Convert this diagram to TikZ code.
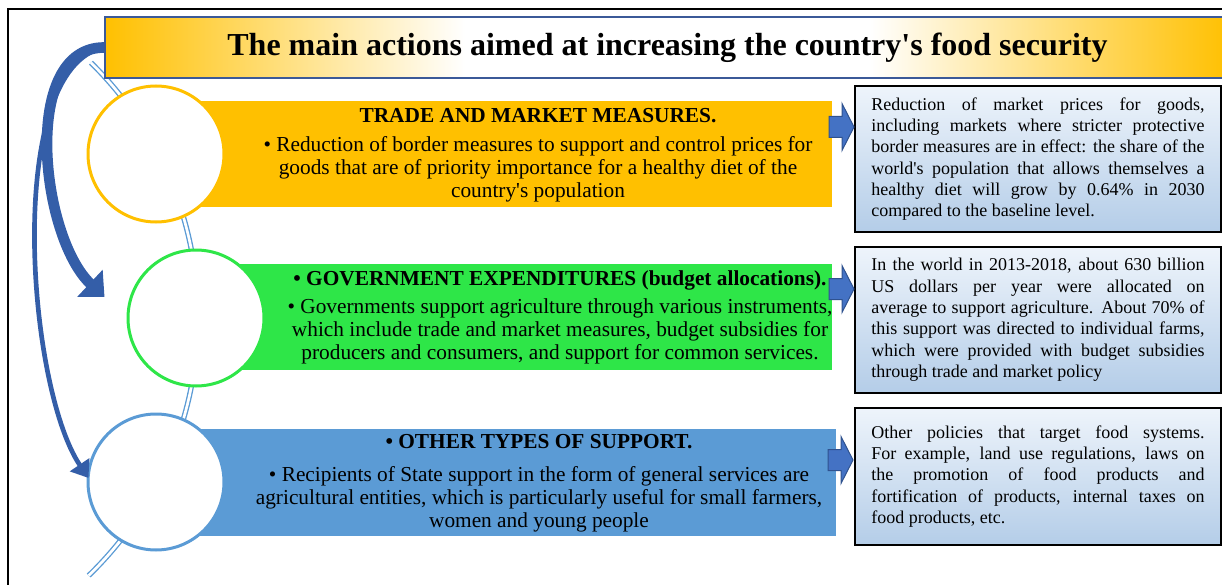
\documentclass[tikz,border=0pt]{standalone}
\usepackage{fontspec}
\setmainfont{Liberation Serif}
\usetikzlibrary{arrows.meta,calc}

\definecolor{titleorange}{RGB}{255,192,0}
\definecolor{titleframe}{RGB}{59,89,152}
\definecolor{bandorange}{RGB}{255,192,0}
\definecolor{bandgreen}{RGB}{46,230,72}
\definecolor{bandblue}{RGB}{91,155,213}
\definecolor{spineblue}{RGB}{91,155,213}
\definecolor{sweepblue}{RGB}{52,94,168}
\definecolor{blockblue}{RGB}{68,114,196}
\definecolor{blockframe}{RGB}{47,82,143}
\definecolor{boxtop}{RGB}{238,244,251}
\definecolor{boxbot}{RGB}{180,205,232}

\pgfdeclarehorizontalshading{titleshade}{100bp}{color(0bp)=(titleorange); color(25bp)=(titleorange); color(41bp)=(white); color(59bp)=(white); color(75bp)=(titleorange); color(100bp)=(titleorange)}

\newcommand{\jline}[1]{\makebox[250pt][s]{#1}\\}

\tikzset{
	headline/.style={draw=titleframe, line width=1.5pt, shading=titleshade, minimum width=843.75pt, minimum height=45.75pt, inner sep=0pt, font=\fontsize{24}{28}\selectfont\bfseries},
	band/.style={draw=none, minimum height=79.5pt, inner sep=0pt},
	bubble/.style={circle, fill=white, line width=2.25pt, minimum size=102pt, inner sep=0pt},
	bandtext/.style={align=center, inner sep=0pt, font=\fontsize{16}{17}\selectfont},
	result/.style={draw=black, line width=1.5pt, top color=boxtop, bottom color=boxbot, minimum width=274.5pt, text width=250pt, align=justify, inner xsep=12.25pt, inner ysep=0pt, font=\fontsize{13.5}{16}\selectfont},
	pointer/.style={fill=blockblue, draw=blockframe, line width=0.75pt, line join=miter},
	spine/.style={draw=spineblue, line width=1pt, double=white, double distance=2pt},
	sweep/.style={draw=sweepblue}
}

\begin{document}
\begin{tikzpicture}[x=0.75pt,y=0.75pt,yscale=-1,xscale=1]
	\path[use as bounding box] (0,0) rectangle (1222,585);
	\clip (0,0) rectangle (1222,585);
	
	%Shape: Frame
	\draw[line width=1.5pt] (8,9) rectangle (1240,600);
	%Shape: Arc
	\draw[spine] (-160,318) ++(-45.5:358) arc[start angle=-45.5, end angle=46, radius=358];
	
	%Shape: Bands
	\node[band, fill=bandorange, minimum width=474pt] (b1) at (516,154) {};
	\node[band, fill=bandgreen, minimum width=444pt] (b2) at (536,317) {};
	\node[band, fill=bandblue, minimum width=477pt, minimum height=80.25pt] (b3) at (518,482.5) {};
	
	%Shape: Circles
	\node[bubble, draw=bandorange] (c1) at (156,154) {};
	\node[bubble, draw=bandgreen] (c2) at (196,318) {};
	\node[bubble, draw=bandblue] (c3) at (156,482) {};
	
	% Text Node
	\node[bandtext] (t1) at (538,155) {{\bfseries TRADE AND MARKET MEASURES.}\\[5pt]
		\textbullet\ Reduction of border measures to support and control prices for\\
		goods that are of priority importance for a healthy diet of the\\
		country\textquotesingle s population};
	% Text Node
	\node[bandtext] (t2) at (560,317.5) {{\bfseries \textbullet\ GOVERNMENT EXPENDITURES (budget allocations).}\\[4pt]
		\textbullet\ Governments support agriculture through various instruments,\\
		which include trade and market measures, budget subsidies for\\
		producers and consumers, and support for common services.};
	% Text Node
	\node[bandtext] (t3) at (539,483) {{\bfseries \textbullet\ OTHER TYPES OF SUPPORT.}\\[8pt]
		\textbullet\ Recipients of State support in the form of general services are\\
		agricultural entities, which is particularly useful for small farmers,\\
		women and young people};
	
	%Shape: Title
	\node[headline] (title) at (667.5,47.5) {The main actions aimed at increasing the country\textquotesingle s food security};
	
	%Curved Arrows
	\draw[sweep, line width=3.5pt, -{Triangle[length=12pt,width=17pt]}] (title.west) .. controls +(-100,20) and +(-62,-92) .. ($(c3.west)+(2,-4)$);
	\draw[sweep, line width=8pt, -{Triangle[length=15pt,width=27pt]}] (title.west) .. controls +(-84,0) and +(-64,-60) .. ($(c2.west)+(-22,-21)$);
	
	%Shape: Result boxes
	\node[result, minimum height=109.5pt] (e1) at (1038,159) {\jline{Reduction of market prices for goods,}
		\jline{including markets where stricter protective}
		\jline{border measures are in effect: the share of the}
		\jline{world\textquotesingle s population that allows themselves a}
		\jline{healthy diet will grow by 0.64\% in 2030}
		compared to the baseline level.};
	\node[result, minimum height=109.5pt] (e2) at (1038,320) {\jline{In the world in 2013-2018, about 630 billion}
		\jline{US dollars per year were allocated on}
		\jline{average to support agriculture. About 70\% of}
		\jline{this support was directed to individual farms,}
		\jline{which were provided with budget subsidies}
		through trade and market policy};
	\node[result, minimum height=102.75pt] (e3) at (1038,476.5) {\jline{Other policies that target food systems.}
		\jline{For example, land use regulations, laws on}
		\jline{the promotion of food products and}
		\jline{fortification of products, internal taxes on}
		food products, etc.};
	
	%Shape: Block Arrows
	\coordinate (p1) at (e1.west |- 0,127);
	\coordinate (p2) at (e2.west |- 0,289);
	\coordinate (p3) at (853,460);
	\foreach \p in {p1,p2,p3}
		\draw[pointer] (\p) -- ++(-12,-23.5) -- ++(0,13) -- ++(-13,0) -- ++(0,21) -- ++(13,0) -- ++(0,13) -- cycle;
	
\end{tikzpicture}
\end{document}
